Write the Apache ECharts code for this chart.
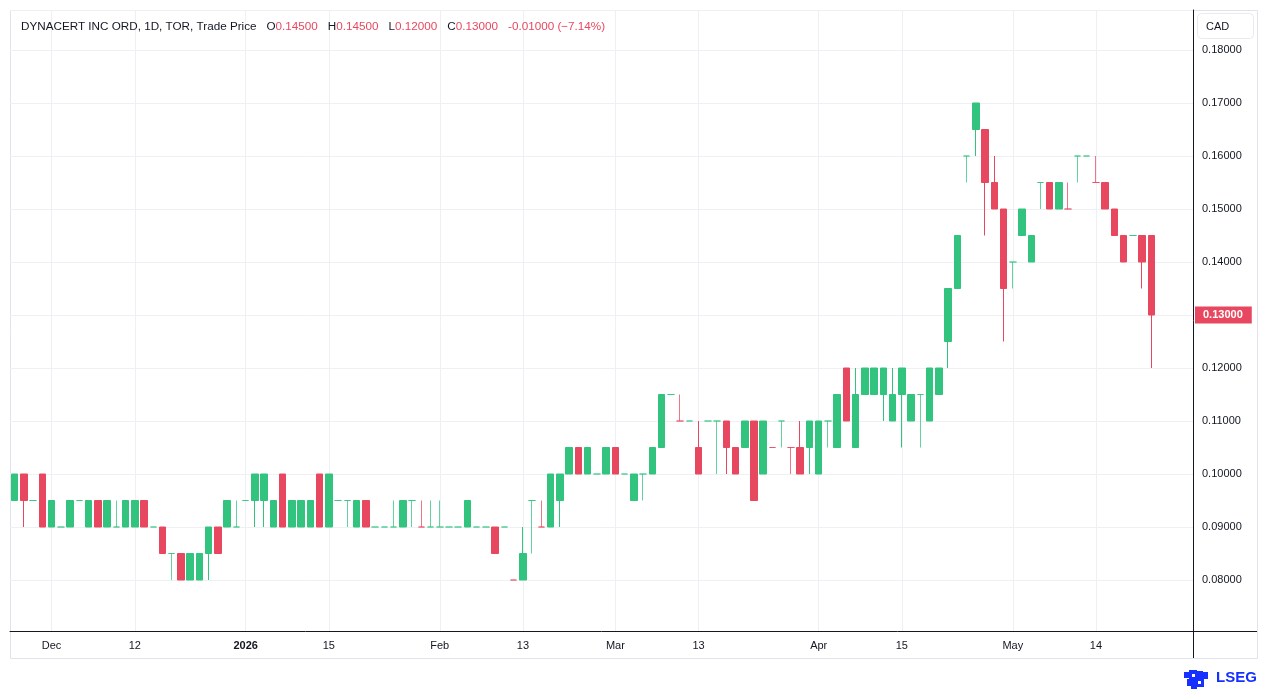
<!DOCTYPE html>
<html>
<head>
<meta charset="utf-8">
<script src="https://cdn.jsdelivr.net/npm/echarts@6/dist/echarts.min.js"></script>
<style>
html,body{margin:0;padding:0;background:#fff;}
#main{width:1266px;height:689px;}
</style>
</head>
<body>
<div id="main"></div>
<script>
function days(ym, list) {
	return list.map(function (d) { return ym + '-' + (d < 10 ? '0' + d : d); });
}
// trading days (TSX), last 4 are the empty slots at the right edge
var dates = [].concat(
	days('2025-11', [25, 26, 27, 28]),
	days('2025-12', [1, 2, 3, 4, 5, 8, 9, 10, 11, 12, 15, 16, 17, 18, 19, 22, 23, 24, 29, 30, 31]),
	days('2026-01', [2, 5, 6, 7, 8, 9, 12, 13, 14, 15, 16, 19, 20, 21, 22, 23, 26, 27, 28, 29, 30]),
	days('2026-02', [2, 3, 4, 5, 6, 9, 10, 11, 12, 13, 17, 18, 19, 20, 23, 24, 25, 26, 27]),
	days('2026-03', [2, 3, 4, 5, 6, 9, 10, 11, 12, 13, 16, 17, 18, 19, 20, 23, 24, 25, 26, 27, 30, 31]),
	days('2026-04', [1, 2, 6, 7, 8, 9, 10, 13, 14, 15, 16, 17, 20, 21, 22, 23, 24, 27, 28, 29, 30]),
	days('2026-05', [1, 4, 5, 6, 7, 8, 11, 12, 13, 14, 15, 19, 20, 21, 22, 25, 26, 27, 28, 29])
);

var opens = [
	.095, .100, .095, .100, .090, .090, .090, .095, .090, .095,
	.090, .090, .090, .090, .095, .090, .090, .085, .085, .080,
	.080, .085, .090, .090, .090, .095, .095, .095, .090, .100,
	.090, .090, .090, .100, .090, .095, .095, .090, .095, .090,
	.090, .090, .090, .095, .090, .090, .090, .090, .090, .090,
	.090, .090, .090, .090, .080, .080, .095, .090, .090, .095,
	.100, .105, .100, .100, .100, .105, .100, .095, .100, .100,
	.105, .115, .110, .110, .105, .110, .110, .110, .105, .105,
	.110, .100, .105, .110, .105, .105, .105, .100, .110, .105,
	.120, .105, .115, .115, .115, .110, .115, .110, .115, .110,
	.115, .125, .135, .160, .165, .165, .155, .150, .140, .145,
	.140, .155, .155, .150, .150, .160, .160, .155, .155, .150,
	.145, .145, .145, .145
];
var closes = [
	.100, .095, .095, .090, .095, .090, .095, .095, .095, .090,
	.095, .090, .095, .095, .090, .090, .085, .085, .080, .085,
	.085, .090, .085, .095, .090, .095, .100, .100, .095, .090,
	.095, .095, .095, .090, .100, .095, .095, .095, .090, .090,
	.090, .090, .095, .095, .090, .090, .090, .090, .090, .095,
	.090, .090, .085, .090, .080, .085, .095, .090, .100, .100,
	.105, .100, .105, .100, .105, .100, .100, .100, .100, .105,
	.115, .115, .110, .110, .100, .110, .110, .105, .100, .110,
	.095, .110, .105, .110, .105, .100, .110, .110, .110, .115,
	.110, .115, .120, .120, .120, .115, .120, .115, .115, .120,
	.120, .135, .145, .160, .170, .155, .150, .135, .140, .150,
	.145, .155, .150, .155, .150, .160, .160, .155, .150, .145,
	.140, .145, .140, .130
];
var lows = [
	.095, .090, .095, .090, .090, .090, .090, .095, .090, .090,
	.090, .090, .090, .090, .090, .090, .085, .080, .080, .080,
	.080, .080, .085, .090, .090, .095, .090, .090, .090, .090,
	.090, .090, .090, .090, .090, .095, .090, .090, .090, .090,
	.090, .090, .090, .090, .090, .090, .090, .090, .090, .090,
	.090, .090, .085, .090, .080, .080, .085, .090, .090, .090,
	.100, .100, .100, .100, .100, .100, .100, .095, .095, .100,
	.105, .115, .110, .110, .100, .110, .100, .100, .100, .105,
	.095, .100, .105, .105, .100, .100, .100, .100, .105, .105,
	.110, .105, .115, .115, .110, .110, .105, .110, .105, .110,
	.115, .120, .135, .155, .160, .145, .150, .125, .135, .145,
	.140, .150, .150, .150, .150, .155, .160, .155, .150, .145,
	.140, .145, .135, .120
];
var highs = [
	.100, .100, .095, .100, .095, .090, .095, .095, .095, .095,
	.095, .095, .095, .095, .095, .090, .090, .085, .085, .085,
	.085, .090, .090, .095, .095, .095, .100, .100, .095, .100,
	.095, .095, .095, .100, .100, .095, .095, .095, .095, .090,
	.090, .095, .095, .095, .095, .095, .095, .090, .090, .095,
	.090, .090, .090, .090, .080, .090, .095, .095, .100, .100,
	.105, .105, .105, .100, .105, .105, .100, .100, .100, .105,
	.115, .115, .115, .110, .110, .110, .110, .110, .105, .110,
	.110, .110, .105, .110, .105, .110, .110, .110, .110, .115,
	.120, .120, .120, .120, .120, .120, .120, .115, .115, .120,
	.120, .135, .145, .160, .170, .165, .160, .150, .140, .150,
	.145, .155, .155, .155, .155, .160, .160, .160, .155, .150,
	.145, .145, .145, .145
];
// open == close days that the reference paints red
var redDoji = ['2026-01-29', '2026-02-12', '2026-02-18', '2026-03-11', '2026-03-25', '2026-03-27', '2026-05-11', '2026-05-14'];

var tickDates = ['2025-12-01', '2025-12-12', '2026-01-02', '2026-01-15', '2026-02-02', '2026-02-13',
	'2026-03-02', '2026-03-13', '2026-04-01', '2026-04-15', '2026-05-01', '2026-05-14'];
var tickLabels = ['Dec', '12', '2026', '15', 'Feb', '13', 'Mar', '13', 'Apr', '15', 'May', '14'];

// visible price range of the pane (edges are not round numbers)
var priceMin = 0.07038, priceMax = 0.18755;

var UP = '#32c47f', DOWN = '#e8485f';
var FONT = '"Liberation Sans", Arial, sans-serif';

var candles = opens.map(function (o, i) {
	var item = { value: [o, closes[i], lows[i], highs[i]] };
	if (o === closes[i]) {
		var col = redDoji.indexOf(dates[i]) >= 0 ? DOWN : UP;
		item.itemStyle = { color: col, color0: col, borderColor: col, borderColor0: col, borderColorDoji: col, opacity: 0.75 };
	}
	return item;
});

var n = closes.length;
var lastO = opens[n - 1], lastH = highs[n - 1], lastL = lows[n - 1], lastC = closes[n - 1];
var chg = lastC - closes[n - 2];
var pct = (chg / closes[n - 2] * 100).toFixed(2).replace('-', '\u2212');

function isTick(i, v) { return tickDates.indexOf(v) >= 0; }

var chart = echarts.init(document.getElementById('main'));
var option = {
	backgroundColor: '#fff',
	animation: false,
	textStyle: { fontFamily: FONT },
	title: {
		left: 16,
		top: 13,
		text: '{n|DYNACERT INC ORD, 1D, TOR, Trade Price}  {k|O}{v|' + lastO.toFixed(5) + '}  {k|H}{v|' + lastH.toFixed(5) +
			'}  {k|L}{v|' + lastL.toFixed(5) + '}  {k|C}{v|' + lastC.toFixed(5) + '}  {v|' + chg.toFixed(5) + ' (' + pct + '%)}',
		textStyle: {
			fontFamily: FONT,
			fontWeight: 'normal',
			rich: {
				n: { color: '#131722', fontSize: 11.7, fontWeight: 'normal', fontFamily: FONT },
				k: { color: '#131722', fontSize: 11.7, fontWeight: 'normal', fontFamily: FONT },
				v: { color: DOWN, fontSize: 11.7, fontWeight: 'normal', fontFamily: FONT }
			}
		}
	},
	grid: { left: 10, right: 73, top: 10, bottom: 58 },
	xAxis: {
		type: 'category',
		data: dates,
		boundaryGap: true,
		axisLine: { show: true, lineStyle: { color: '#131722', width: 1 } },
		axisTick: { show: false },
		axisLabel: {
			interval: isTick,
			margin: 9,
			color: '#131722',
			fontSize: 11,
			fontFamily: FONT,
			formatter: function (v) {
				var k = tickDates.indexOf(v);
				var t = tickLabels[k];
				return t === '2026' ? '{b|' + t + '}' : t;
			},
			rich: { b: { fontWeight: 'bold', fontSize: 11, color: '#131722', fontFamily: FONT } }
		},
		splitLine: { show: true, interval: isTick, alignWithLabel: true, lineStyle: { color: '#eef0f4', width: 1 } }
	},
	yAxis: {
		type: 'value',
		position: 'right',
		min: priceMin,
		max: priceMax,
		splitNumber: 12,
		axisLine: { show: true, lineStyle: { color: '#131722', width: 1 } },
		axisTick: { show: false },
		axisLabel: {
			margin: 9,
			color: '#131722',
			fontSize: 11,
			fontFamily: FONT,
			showMinLabel: false,
			showMaxLabel: false,
			formatter: function (v) { return v.toFixed(5); }
		},
		splitLine: { show: true, lineStyle: { color: '#eef0f4', width: 1 } }
	},
	series: [{
		type: 'candlestick',
		name: 'DYNACERT',
		barWidth: 7,
		clip: false,
		itemStyle: { color: UP, color0: DOWN, borderColor: UP, borderColor0: DOWN, borderWidth: 1 },
		data: candles,
		markLine: {
			silent: true,
			symbol: 'none',
			lineStyle: { color: 'rgba(0,0,0,0)', width: 0 },
			label: {
				show: true,
				position: 'end',
				distance: 2,
				backgroundColor: DOWN,
				color: '#fff',
				fontSize: 11,
				fontWeight: 'bold',
				fontFamily: FONT,
				padding: [3, 9, 3, 8],
				formatter: function () { return lastC.toFixed(5); }
			},
			data: [{ yAxis: lastC }]
		}
	}],
	graphic: [
		{ type: 'rect', silent: true, z: -1, shape: { x: 10.5, y: 10.5, width: 1247, height: 648 }, style: { fill: 'none', stroke: '#e0e3eb', lineWidth: 1 } },
		{ type: 'line', silent: true, shape: { x1: 1193.5, y1: 631, x2: 1193.5, y2: 658 }, style: { stroke: '#131722', lineWidth: 1 } },
		{ type: 'line', silent: true, shape: { x1: 1193, y1: 631.5, x2: 1257, y2: 631.5 }, style: { stroke: '#131722', lineWidth: 1 } },
		{ type: 'rect', silent: true, shape: { x: 1197.5, y: 13.5, width: 56, height: 25, r: 4 }, style: { fill: '#fff', stroke: '#e8eaef', lineWidth: 1 } },
		{ type: 'text', silent: true, left: 1206, top: 21, style: { text: 'CAD', fill: '#131722', fontSize: 11, fontFamily: FONT } },
		{ type: 'text', silent: true, left: 1216, top: 670, style: { text: 'LSEG', fill: '#1530ff', fontSize: 15, fontWeight: 'bold', fontFamily: FONT } },
		{
			type: 'group', left: 1184, top: 670, silent: true,
			children: [
				{ type: 'rect', shape: { x: 0, y: 2, width: 6, height: 6 }, style: { fill: '#1530ff' } },
				{ type: 'rect', shape: { x: 5, y: 0, width: 8, height: 10 }, style: { fill: '#1530ff' } },
				{ type: 'rect', shape: { x: 12, y: 1, width: 7, height: 8 }, style: { fill: '#1530ff' } },
				{ type: 'rect', shape: { x: 18, y: 2, width: 6, height: 7 }, style: { fill: '#1530ff' } },
				{ type: 'rect', shape: { x: 3, y: 9, width: 8, height: 7 }, style: { fill: '#1530ff' } },
				{ type: 'rect', shape: { x: 11, y: 9, width: 9, height: 8 }, style: { fill: '#1530ff' } },
				{ type: 'rect', shape: { x: 7, y: 16, width: 6, height: 3 }, style: { fill: '#1530ff' } },
				{ type: 'rect', shape: { x: 8, y: 4, width: 3, height: 3 }, style: { fill: '#fff' } },
				{ type: 'rect', shape: { x: 14, y: 11, width: 3, height: 3 }, style: { fill: '#fff' } }
			]
		}
	]
};
chart.setOption(option);
</script>
</body>
</html>
